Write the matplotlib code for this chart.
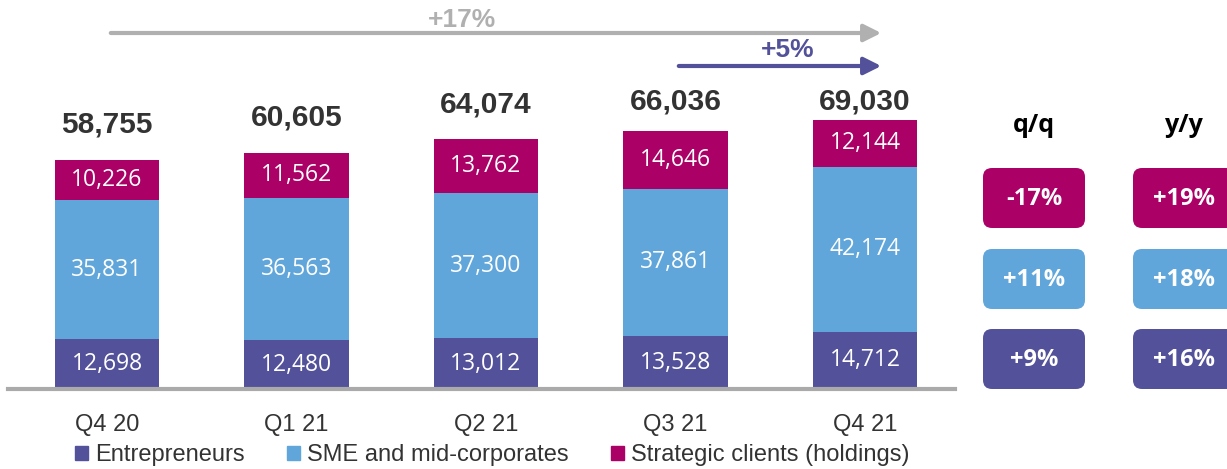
import matplotlib
matplotlib.use("Agg")
import matplotlib.pyplot as plt
from matplotlib.patches import FancyBboxPatch, Patch
import numpy as np

# quarterly lending volumes (EUR m)
quarters = ["Q4 20", "Q1 21", "Q2 21", "Q3 21", "Q4 21"]
entrepreneurs = [12698, 12480, 13012, 13528, 14712]
sme = [35831, 36563, 37300, 37861, 42174]
strategic = [10226, 11562, 13762, 14646, 12144]
totals = [58755, 60605, 64074, 66036, 69030]

# growth boxes: strategic, sme, entrepreneurs
qq = ["-17%", "+11%", "+9%"]
yy = ["+19%", "+18%", "+16%"]

PURPLE = "#525199"
BLUE = "#60A6DA"
MAGENTA = "#AB0066"
GREY = "#AAAAAA"
DARK = "#333333"

W, H = 1227, 469
fig = plt.figure(figsize=(W / 100, H / 100), dpi=100)

# main axes: baseline at 389px from top, 0.0039 px per unit
base = 389
scale = 0.0039
left, right = 8, 955
x0px, step = 107, 189.5
ax = fig.add_axes([left / W, (H - base) / H, (right - left) / W, base / H])
ax.set_xlim((left - x0px) / step, (right - x0px) / step)
ax.set_ylim(0, base / scale)

x = np.arange(len(quarters))
bw = 0.55
ent = np.array(entrepreneurs)
sm = np.array(sme)
st = np.array(strategic)
ax.bar(x, ent, bw, color=PURPLE, zorder=2)
ax.bar(x, sm, bw, bottom=ent, color=BLUE, zorder=2)
ax.bar(x, st, bw, bottom=ent + sm, color=MAGENTA, zorder=2)

seg_font = dict(family="Open Sans", fontsize=16.5, color="white", ha="center", va="center")
for i in x:
    ax.text(i, ent[i] / 2, f"{ent[i]:,}", **seg_font)
    ax.text(i, ent[i] + sm[i] / 2, f"{sm[i]:,}", **seg_font)
    ax.text(i, ent[i] + sm[i] + st[i] / 2, f"{st[i]:,}", **seg_font)
    ly = min(totals[i] + 9000, 73600)
    ax.text(i, ly, f"{totals[i]:,}", family="Liberation Sans", fontweight="bold",
            fontsize=21.5, color=DARK, ha="center", va="center")

for s in ["top", "left", "right"]:
    ax.spines[s].set_visible(False)
ax.spines["bottom"].set_color(GREY)
ax.spines["bottom"].set_linewidth(3)
ax.set_yticks([])
ax.set_xticks(x)
ax.set_xticklabels(quarters, family="Liberation Sans", fontsize=17, color=DARK)
ax.tick_params(axis="x", length=0, pad=18)
ax.patch.set_visible(False)

handles = [Patch(color=PURPLE, label="Entrepreneurs"),
           Patch(color=BLUE, label="SME and mid-corporates"),
           Patch(color=MAGENTA, label="Strategic clients (holdings)")]
leg = fig.legend(handles=handles, loc="center left", bbox_to_anchor=(75 / W, 14 / H),
                 ncol=3, frameon=False, borderpad=0, borderaxespad=0,
                 handlelength=0.55, handleheight=0.55, handletextpad=0.3,
                 columnspacing=1.8, prop=dict(family="Liberation Sans", size=17))
for t in leg.get_texts():
    t.set_color(DARK)

# overlay in pixel coordinates for arrows and growth boxes
ov = fig.add_axes([0, 0, 1, 1])
ov.set_xlim(0, W)
ov.set_ylim(H, 0)
ov.axis("off")
ov.patch.set_visible(False)

ov.annotate("", xy=(884, 33), xytext=(108, 33),
            arrowprops=dict(arrowstyle="-|>", color="#B0B0B0", lw=3, mutation_scale=26))
ov.text(462, 20, "+17%", family="Liberation Sans", fontweight="bold", fontsize=19,
        color="#B0B0B0", ha="center", va="center")
ov.annotate("", xy=(884, 66), xytext=(676, 66),
            arrowprops=dict(arrowstyle="-|>", color=PURPLE, lw=3, mutation_scale=26))
ov.text(788, 50, "+5%", family="Liberation Sans", fontweight="bold", fontsize=19,
        color=PURPLE, ha="center", va="center")

cols = [(1034, "q/q", qq), (1184, "y/y", yy)]
rows = [(168, MAGENTA), (249, BLUE), (329, PURPLE)]
for cx, head, vals in cols:
    ov.text(cx, 126, head, family="Open Sans", fontweight="bold", fontsize=18,
            color="black", ha="center", va="center")
    for (ry, c), v in zip(rows, vals):
        ov.add_patch(FancyBboxPatch((cx - 51, ry), 102, 60,
                                    boxstyle="round,pad=0,rounding_size=9",
                                    fc=c, ec="none"))
        ov.text(cx, ry + 31, v, family="Open Sans", fontweight="bold", fontsize=17,
                color="white", ha="center", va="center")

fig.savefig("out.png", dpi=100)
